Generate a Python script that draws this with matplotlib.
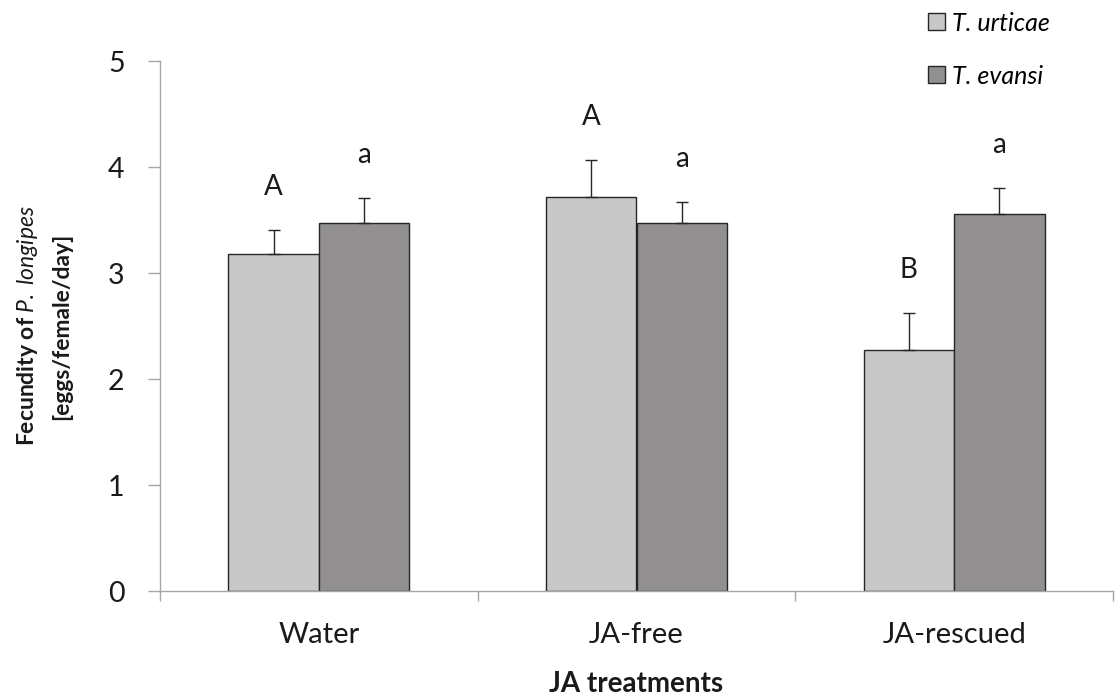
import matplotlib
matplotlib.use("Agg")
import matplotlib.pyplot as plt
import numpy as np

# ---- data ----
categories = ["Water", "JA-free", "JA-rescued"]
series_names = ["T. urticae", "T. evansi"]
urticae_mean = [3.18, 3.72, 2.27]
urticae_se = [0.23, 0.35, 0.35]
evansi_mean = [3.47, 3.47, 3.56]
evansi_se = [0.24, 0.20, 0.24]
urticae_letters = ["A", "A", "B"]
evansi_letters = ["a", "a", "a"]
yticks = [0, 1, 2, 3, 4, 5]

FONT = "Lato"
plt.rcParams["font.family"] = [FONT, "DejaVu Sans"]
plt.rcParams["mathtext.fontset"] = "custom"
plt.rcParams["mathtext.it"] = FONT + ":italic"
plt.rcParams["mathtext.rm"] = FONT
plt.rcParams["mathtext.bf"] = FONT + ":bold"

W, H = 1115, 695
fig = plt.figure(figsize=(W / 100, H / 100), dpi=100)
ax = fig.add_axes([160 / W, 1 - 591 / H, (1113 - 160) / W, (591 - 61) / H])

light = "#c8c8c8"
dark = "#918f90"
edge = "#262626"
axis_col = "#a6a6a6"
txt = "#1a1a1a"

x = np.arange(len(categories))
bw = 0.285
err_kw = dict(ecolor=edge, elinewidth=1.0, capsize=4.5, capthick=1.0)
ax.bar(x - bw / 2, urticae_mean, bw, color=light, edgecolor=edge, linewidth=1.0,
       yerr=[np.zeros(3), urticae_se], error_kw=err_kw, label=series_names[0], zorder=2)
ax.bar(x + bw / 2, evansi_mean, bw, color=dark, edgecolor=edge, linewidth=1.0,
       yerr=[np.zeros(3), evansi_se], error_kw=err_kw, label=series_names[1], zorder=2)

off = 0.33
for i in range(len(categories)):
    ax.text(x[i] - bw / 2, urticae_mean[i] + urticae_se[i] + off, urticae_letters[i],
            ha="center", va="baseline", fontsize=20, color=txt)
    ax.text(x[i] + bw / 2, evansi_mean[i] + evansi_se[i] + off, evansi_letters[i],
            ha="center", va="baseline", fontsize=20, color=txt)

ax.set_xlim(-0.5, len(categories) - 0.5)
ax.set_ylim(0, 5)
ax.set_yticks(yticks)
ax.set_yticklabels([str(v) for v in yticks])
ax.set_xticks(x)
ax.set_xticklabels(categories)
ax.set_xticks(np.arange(len(categories) + 1) - 0.5, minor=True)
ax.tick_params(axis="x", which="major", length=0, pad=22, labelsize=21, labelcolor=txt)
ax.tick_params(axis="x", which="minor", length=7.5, width=1.0, color=axis_col, direction="out")
ax.tick_params(axis="y", which="major", length=8.5, width=1.0, color=axis_col, direction="out",
               pad=17, labelsize=20.5, labelcolor=txt)

for s in ["top", "right"]:
    ax.spines[s].set_visible(False)
for s in ["left", "bottom"]:
    ax.spines[s].set_color(axis_col)
    ax.spines[s].set_linewidth(1.0)

ax.set_xlabel("JA treatments", fontsize=20, fontweight="bold", labelpad=17, color=txt)
ax.set_ylabel("Fecundity of $\\mathit{P.\\ longipes}$\n[eggs/female/day]", fontsize=16.5,
              fontweight="bold", color=txt, labelpad=26, linespacing=1.65)

leg = ax.legend(loc="upper left", bbox_to_anchor=(915 / W, 1 + 1 / H),
                bbox_transform=fig.transFigure, frameon=False, borderpad=0,
                handlelength=0.68, handleheight=0.68, handletextpad=0.3,
                labelspacing=1.2, prop={"family": FONT, "style": "italic", "size": 18})

fig.savefig("out.png", dpi=100)
